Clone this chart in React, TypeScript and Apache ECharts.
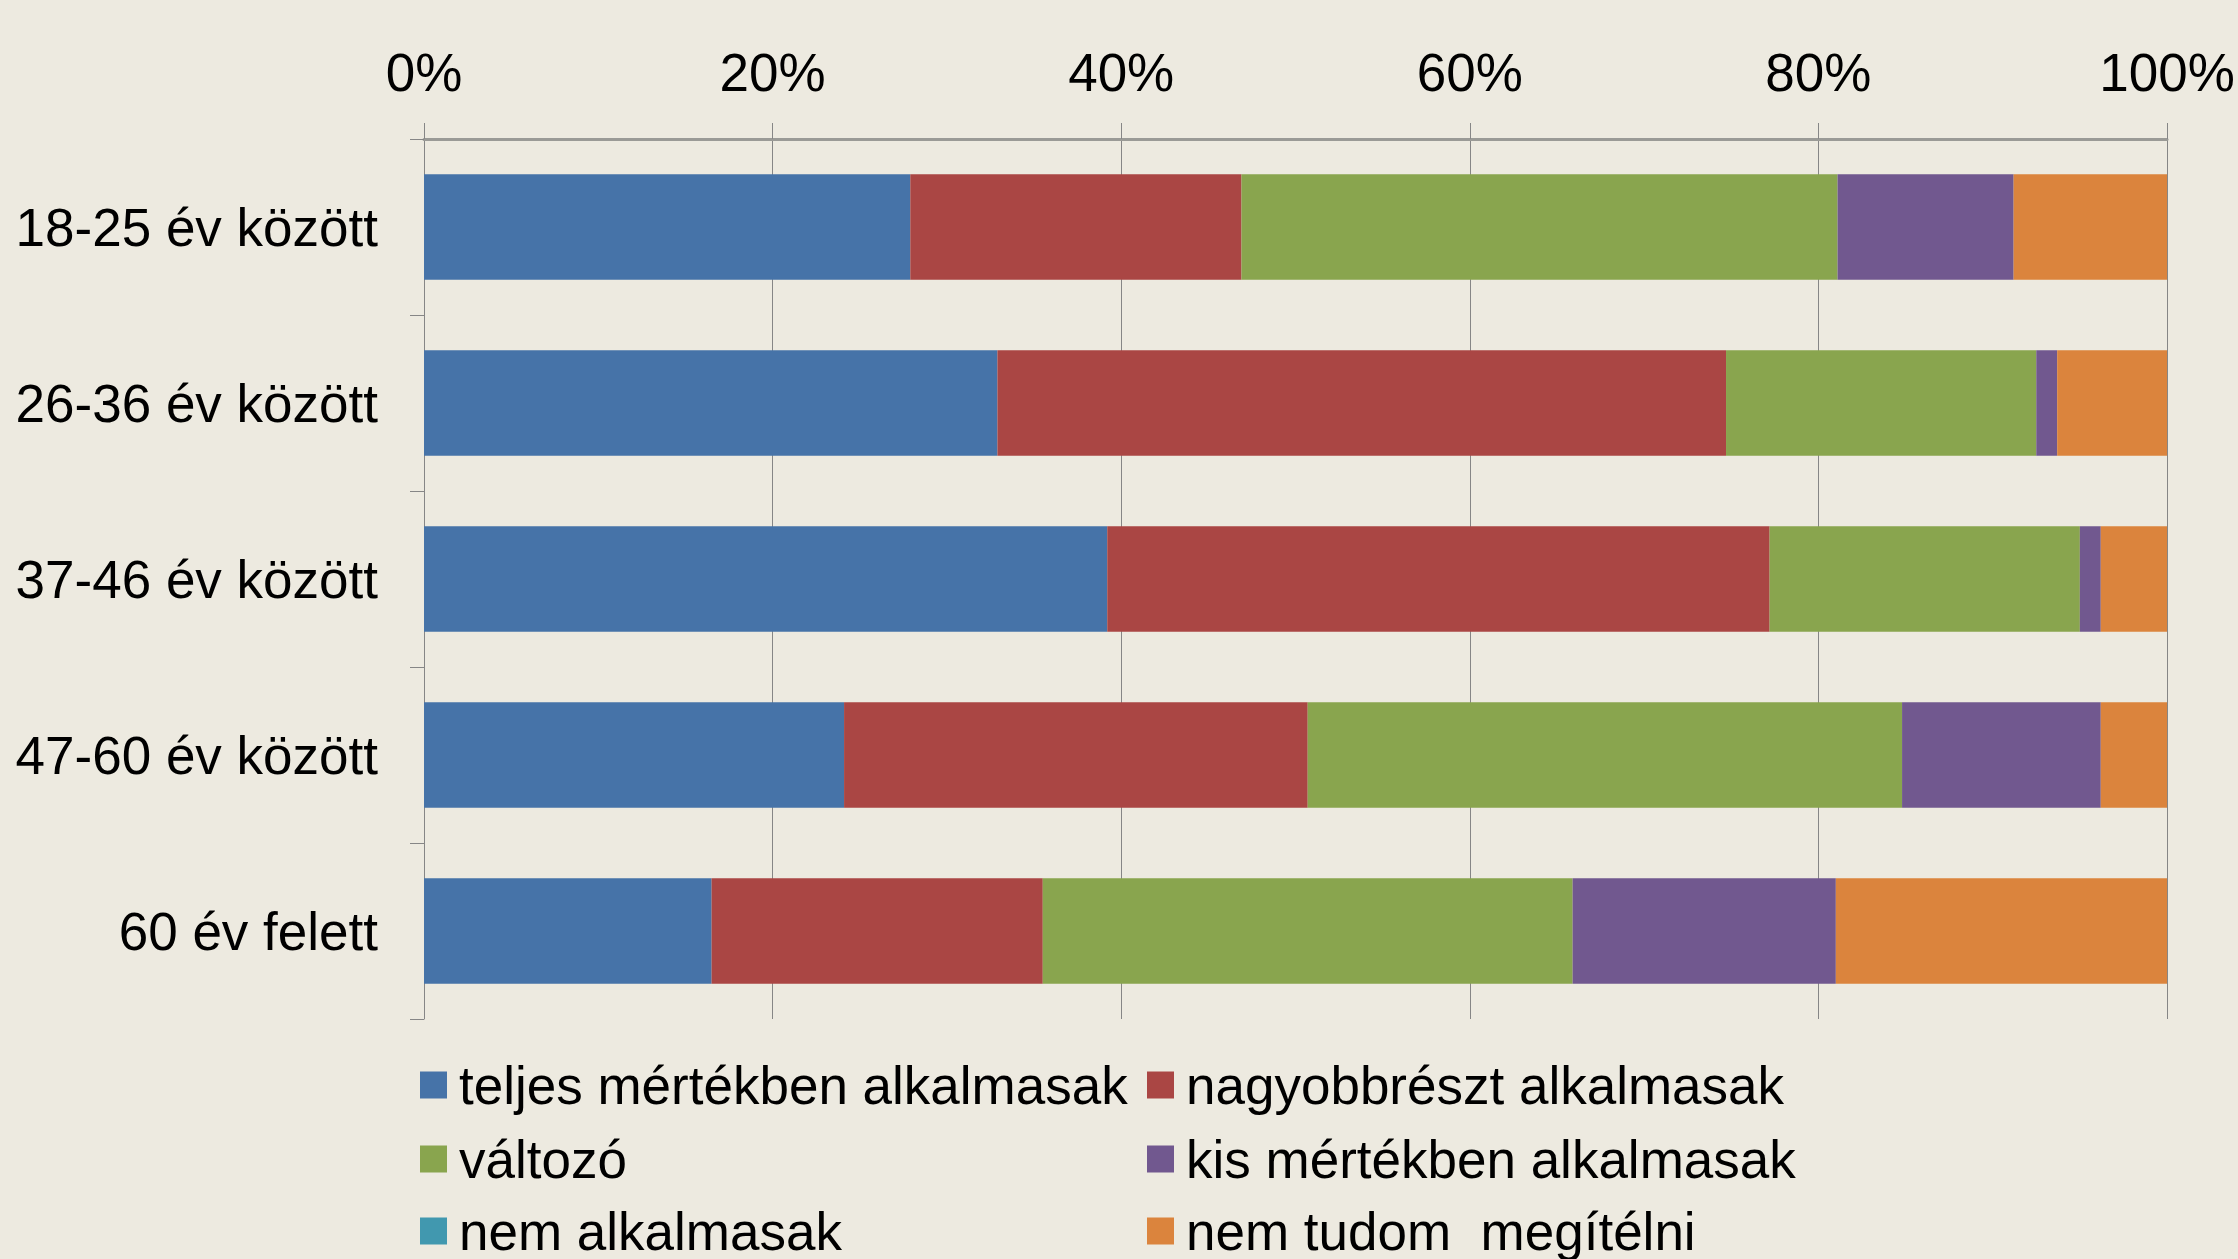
import React, { useEffect, useRef } from "react";
import * as echarts from "echarts";

const categories = ["18-25 év között", "26-36 év között", "37-46 év között", "47-60 év között", "60 év felett"];
const seriesNames = [
  "teljes mértékben alkalmasak",
  "nagyobbrészt alkalmasak",
  "változó",
  "kis mértékben alkalmasak",
  "nem alkalmasak",
  "nem tudom  megítélni",
];
const teljes = [27.9, 32.9, 39.2, 24.1, 16.5];
const nagyobbreszt = [19.0, 41.8, 38.0, 26.6, 19.0];
const valtozo = [34.2, 17.8, 17.8, 34.1, 30.4];
const kis = [10.1, 1.2, 1.2, 11.4, 15.1];
const nemAlk = [0, 0, 0, 0, 0];
const nemTudom = [8.8, 6.3, 3.8, 3.8, 19.0];
const xTicks = [0, 20, 40, 60, 80, 100];
const colors = ["#4673A8", "#AA4644", "#89A54E", "#71588F", "#4198AF", "#DB843D"];

const FONT = "'Liberation Sans', Arial, sans-serif";

export default function App() {
  const ref = useRef<HTMLDivElement>(null);
  useEffect(() => {
    if (!ref.current) return;
    const chart = echarts.init(ref.current, undefined, { renderer: "svg" });
    const values = [teljes, nagyobbreszt, valtozo, kis, nemAlk, nemTudom];
    const legendText = {
      fontSize: 53,
      fontFamily: FONT,
      color: "#000",
      lineHeight: 56,
      padding: [0, 0, 0, 7],
    };
    const colX = [420, 1147];
    const rowTop = [1057, 1131, 1203];
    const legends = seriesNames.map((name, i) => ({
      orient: "horizontal",
      left: colX[i % 2],
      top: rowTop[Math.floor(i / 2)],
      itemWidth: 27,
      itemHeight: 27,
      icon: "rect",
      padding: 0,
      data: [name],
      textStyle: legendText,
    }));
    chart.setOption({
      animation: false,
      backgroundColor: "#EDEAE0",
      textStyle: { fontFamily: FONT },
      grid: { left: 424, right: 71, top: 139, bottom: 240, containLabel: false },
      xAxis: {
        type: "value",
        position: "top",
        min: xTicks[0],
        max: xTicks[xTicks.length - 1],
        interval: 20,
        axisLabel: {
          formatter: "{value}%",
          fontSize: 53,
          fontFamily: FONT,
          color: "#000",
          margin: 40,
        },
        axisLine: { show: true, lineStyle: { color: "#9A9A96", width: 3 } },
        axisTick: { show: true, length: 16, lineStyle: { color: "#868686", width: 1 } },
        splitLine: { show: true, lineStyle: { color: "#868686", width: 1 } },
      },
      yAxis: {
        type: "category",
        inverse: true,
        data: categories,
        axisLabel: {
          fontSize: 53,
          fontFamily: FONT,
          color: "#000",
          margin: 46,
        },
        axisLine: { show: true, lineStyle: { color: "#868686", width: 1 } },
        axisTick: { show: true, length: 14, lineStyle: { color: "#868686", width: 1 } },
      },
      legend: legends,
      series: seriesNames.map((name, i) => ({
        name,
        type: "bar",
        stack: "total",
        barWidth: "60%",
        data: values[i],
        itemStyle: { color: colors[i] },
      })),
    });
    return () => chart.dispose();
  }, []);
  return (
    <div
      ref={ref}
      style={{ position: "fixed", left: 0, top: 0, width: 2238, height: 1259 }}
    />
  );
}
